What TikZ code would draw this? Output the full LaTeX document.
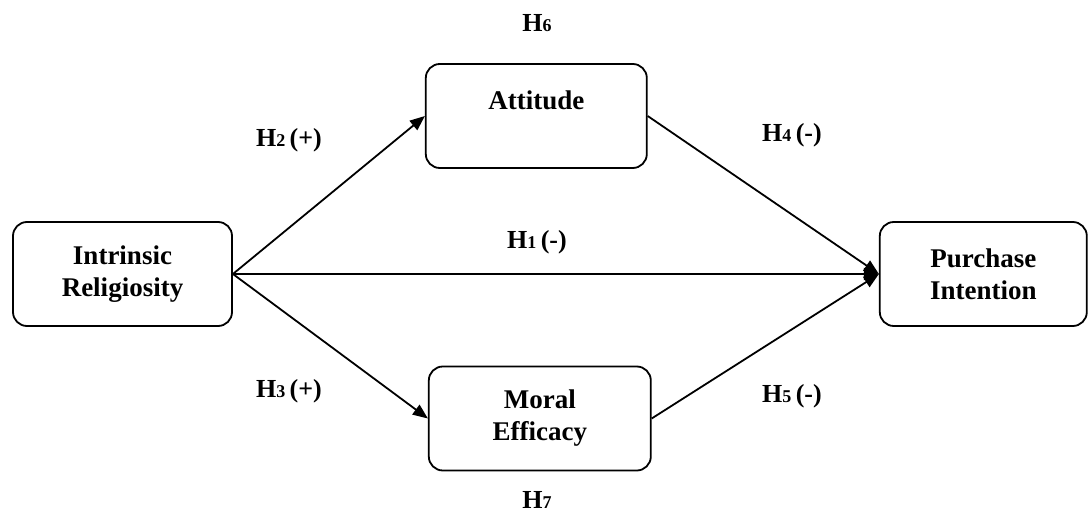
\documentclass[tikz,border=0pt]{standalone}
\usepackage{fontspec}
\setmainfont{Liberation Serif}
\usepackage{tikz}
\usetikzlibrary{positioning, arrows.meta}

\newcommand{\hsub}[1]{H{\fontsize{18}{18}\selectfont #1}}

\begin{document}
\begin{tikzpicture}[
  box/.style={draw, rounded corners=14pt, line width=1.8pt, align=center, minimum height=104pt,
    font=\bfseries\fontsize{27}{32}\selectfont},
  hyp/.style={anchor=base, font=\bfseries\fontsize{26}{30}\selectfont},
  arrow/.style={-{Triangle[length=15pt,width=12pt]}, line width=1.8pt}
]
\useasboundingbox (0,0) rectangle (1090pt,-513pt);

% ===== Constructs =====
\node[box, minimum width=219pt] (ir) at (122.5pt,-274pt) {Intrinsic\\Religiosity};

\node[box, minimum width=221pt, right=192pt of ir, yshift=158pt] (att) {Attitude\\ \mbox{}};

\node[box, minimum width=222pt, right=195pt of ir, yshift=-144.5pt] (me) {Moral\\Efficacy};

\node[box, minimum width=207pt, right=646pt of ir] (pi) {Purchase\\Intention};

% ===== Hypotheses =====
\node[hyp] (h6) at (537pt,-32pt) {\hsub{6}};
\node[hyp] (h2) at (289pt,-147pt) {\hsub{2}\,(+)};
\node[hyp] (h4) at (792pt,-142pt) {\hsub{4}\,(-)};
\node[hyp] (h1) at (537pt,-248pt) {\hsub{1}\,(-)};
\node[hyp] (h3) at (289pt,-397pt) {\hsub{3}\,(+)};
\node[hyp] (h5) at (792pt,-402pt) {\hsub{5}\,(-)};
\node[hyp] (h7) at (537pt,-508pt) {\hsub{7}};

% ===== Paths =====
\draw[arrow] (ir.east) -- (att.west);
\draw[arrow] (ir.east) -- (me.west);
\draw[arrow] (ir.east) -- (pi.west);
\draw[arrow] (att.east) -- (pi.west);
\draw[arrow] (me.east) -- (pi.west);

\end{tikzpicture}
\end{document}
